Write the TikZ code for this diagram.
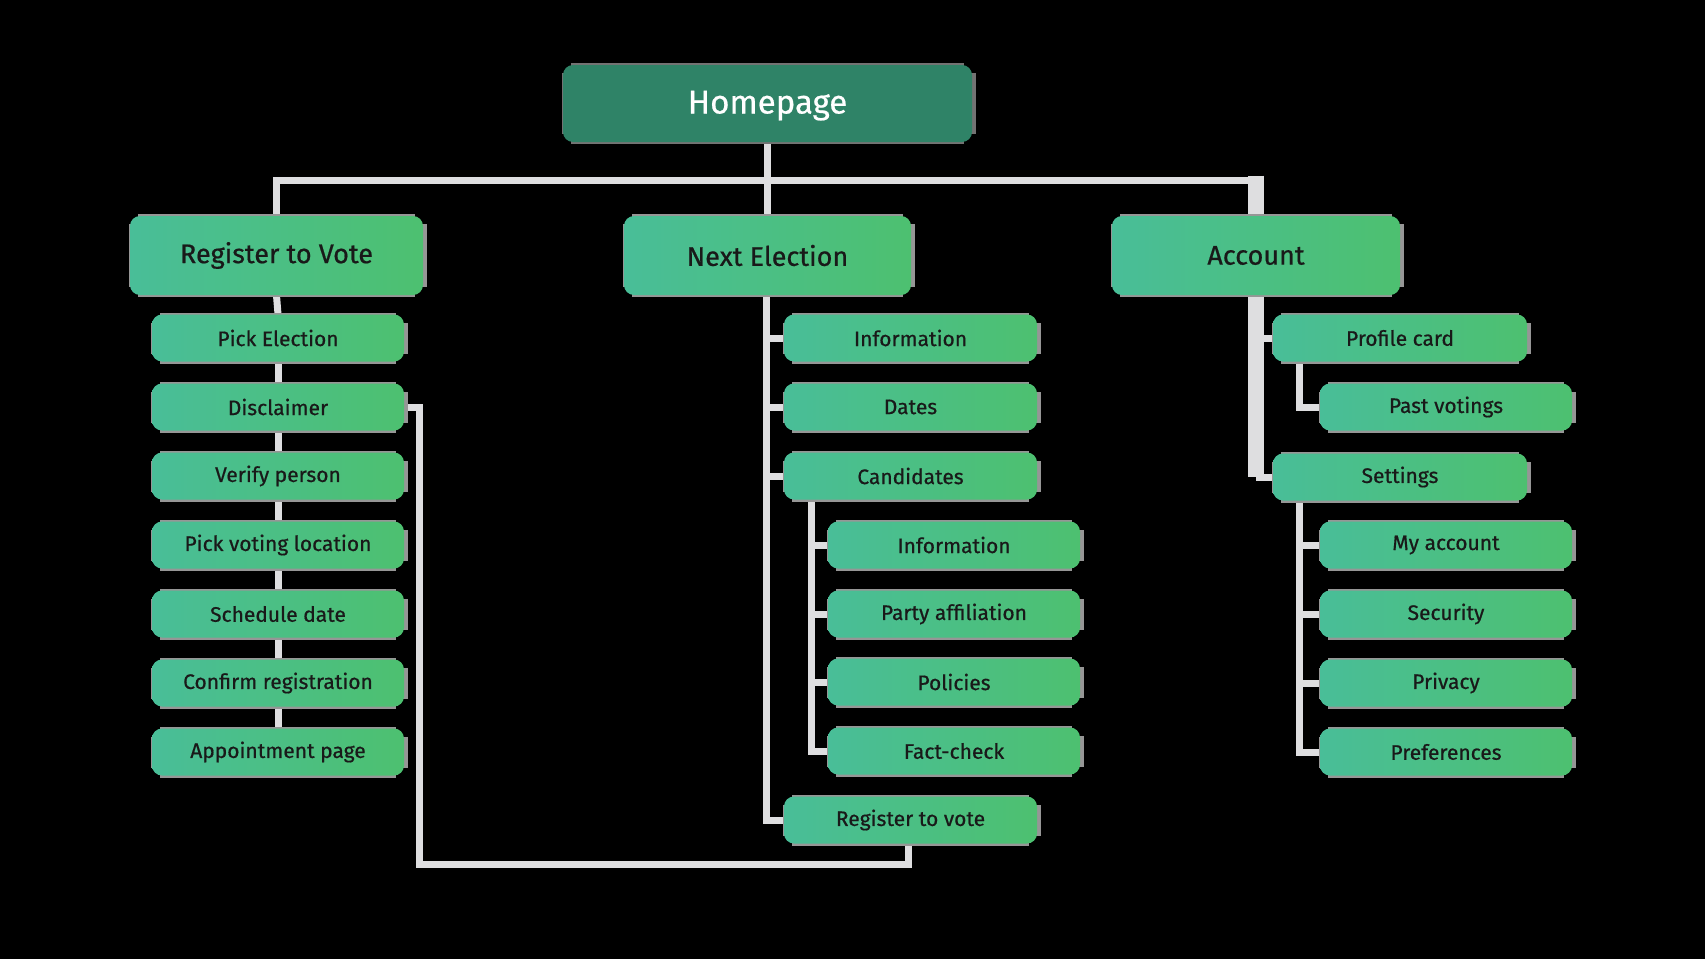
\documentclass[tikz,border=0pt]{standalone}
\usepackage{fontspec}
\setmainfont{Fira Sans}[FakeBold=0.6]
\usetikzlibrary{calc}
\pgfdeclarelayer{back}
\pgfdeclarelayer{bg}
\pgfsetlayers{back,bg,main}
\definecolor{gl}{RGB}{73,190,152}
\definecolor{gr}{RGB}{77,192,112}
\definecolor{hp}{RGB}{47,131,103}
\definecolor{frame}{RGB}{150,150,150}
\definecolor{hframe}{RGB}{115,115,115}
\definecolor{linec}{RGB}{222,222,224}
\tikzset{
  box/.style={rounded corners=5pt, left color=gl, right color=gr, draw=none,
    inner sep=0pt, text=black!90, font=\fontsize{10.5}{12}\selectfont},
  lone/.style={box, font=\fontsize{13.5}{15}\selectfont},
  homebox/.style={rounded corners=5pt, fill=hp, draw=none, inner sep=0pt,
    text=white, font=\fontsize{16.5}{18}\selectfont},
  conn/.style={draw=linec, line width=3.5pt},
  fat/.style={draw=linec, line width=8pt}
}
% #1 style, #2 name, #3 x, #4 y, #5 w px, #6 h px, #7 text, #8 frame colour
\newcommand\mybox[8]{%
  \fill[#8] (#3-#5/2+8, #4-#6/2-2) rectangle (#3+#5/2-8, #4+#6/2+2);
  \fill[#8] (#3-#5/2-1, #4-#6/2+8) rectangle (#3+#5/2+4, #4+#6/2-8);
  \node[#1, minimum width=#5*0.5pt, minimum height=#6*0.5pt] (#2) at (#3,#4) {#7};
}
\begin{document}
\begin{tikzpicture}[x=0.5pt,y=-0.5pt]
\begin{pgfonlayer}{back}
\fill[black] (0,0) rectangle (1705,959);
\end{pgfonlayer}
\useasboundingbox (0,0) rectangle (1705,959);

\mybox{homebox}{home}{767.5}{103.5}{409}{77}{\raisebox{-5pt}[0pt][0pt]{Homepage}}{hframe}

\mybox{lone}{reg}{276.5}{255.5}{293}{79}{Register to Vote}{frame}
\mybox{lone}{next}{767.5}{255.5}{287}{79}{Next Election}{frame}
\mybox{lone}{acc}{1256}{255.5}{288}{79}{Account}{frame}

% Register column
\mybox{box}{r1}{278}{338}{252}{47}{Pick Election}{frame}
\mybox{box}{r2}{278}{407}{252}{47}{Disclaimer}{frame}
\mybox{box}{r3}{278}{476}{252}{47}{Verify person}{frame}
\mybox{box}{r4}{278}{545}{252}{47}{Pick voting location}{frame}
\mybox{box}{r5}{278}{614}{252}{47}{Schedule date}{frame}
\mybox{box}{r6}{278}{683}{252}{47}{Confirm registration}{frame}
\mybox{box}{r7}{278}{752}{252}{47}{Appointment page}{frame}

% Next election column
\mybox{box}{n1}{910.5}{338}{253}{47}{Information}{frame}
\mybox{box}{n2}{910.5}{407}{253}{47}{Dates}{frame}
\mybox{box}{n3}{910.5}{476}{253}{47}{Candidates}{frame}
\mybox{box}{c1}{954}{545}{252}{47}{Information}{frame}
\mybox{box}{c2}{954}{614}{252}{47}{Party affiliation}{frame}
\mybox{box}{c3}{954}{682}{252}{47}{Policies}{frame}
\mybox{box}{c4}{954}{751}{252}{47}{Fact-check}{frame}
\mybox{box}{n4}{910.5}{820}{253}{47}{Register to vote}{frame}

% Account column
\mybox{box}{a1}{1400}{338}{254}{47}{Profile card}{frame}
\mybox{box}{a2}{1446}{407}{252}{47}{Past votings}{frame}
\mybox{box}{a3}{1400}{477}{254}{47}{Settings}{frame}
\mybox{box}{s1}{1446}{545}{252}{47}{My account}{frame}
\mybox{box}{s2}{1446}{614}{252}{47}{Security}{frame}
\mybox{box}{s3}{1446}{683}{252}{47}{Privacy}{frame}
\mybox{box}{s4}{1446}{752}{252}{47}{Preferences}{frame}

\begin{pgfonlayer}{bg}
  % top tree
  \coordinate (bar) at (767.5,180);
  \draw[conn] (home.south) -- (next.north);
  \draw[conn] (reg.north) |- (bar);
  \draw[conn] (bar) -| ($(acc.north)+(-4,0)$);
  \draw[fat] ($(acc.north)+(0,-40)$) -- (acc.north);
  % register column
  \draw[conn] (reg.south) -- (r1.north);
  \draw[conn] (r1.south) -- (r2.north);
  \draw[conn] (r2.south) -- (r3.north);
  \draw[conn] (r3.south) -- (r4.north);
  \draw[conn] (r4.south) -- (r5.north);
  \draw[conn] (r5.south) -- (r6.north);
  \draw[conn] (r6.south) -- (r7.north);
  % loop from disclaimer to register to vote
  \draw[conn] (r2.east) -- ++(15,0) |- ($(n4.south)+(-2,21)$) -- ($(n4.south)+(-2,0)$);
  % next election column
  \draw[conn] ($(next.south)+(-1.5,0)$) |- (n1.west);
  \draw[conn] ($(next.south)+(-1.5,0)$) |- (n2.west);
  \draw[conn] ($(next.south)+(-1.5,0)$) |- (n3.west);
  \draw[conn] ($(next.south)+(-1.5,0)$) |- (n4.west);
  % candidates sub column
  \draw[conn] ($(n3.south west)+(28,0)$) |- (c1.west);
  \draw[conn] ($(n3.south west)+(28,0)$) |- (c2.west);
  \draw[conn] ($(n3.south west)+(28,0)$) |- (c3.west);
  \draw[conn] ($(n3.south west)+(28,0)$) |- (c4.west);
  % account column
  \draw[fat] (acc.south) -- (acc.south |- a3.west);
  \draw[conn] (acc.south |- a1.west) -- (a1.west);
  \draw[conn] (acc.south |- a3.west) -- (a3.west);
  \draw[conn] ($(a1.south west)+(27,0)$) |- (a2.west);
  \draw[conn] ($(a3.south west)+(27,0)$) |- (s1.west);
  \draw[conn] ($(a3.south west)+(27,0)$) |- (s2.west);
  \draw[conn] ($(a3.south west)+(27,0)$) |- (s3.west);
  \draw[conn] ($(a3.south west)+(27,0)$) |- (s4.west);
\end{pgfonlayer}
\end{tikzpicture}
\end{document}
